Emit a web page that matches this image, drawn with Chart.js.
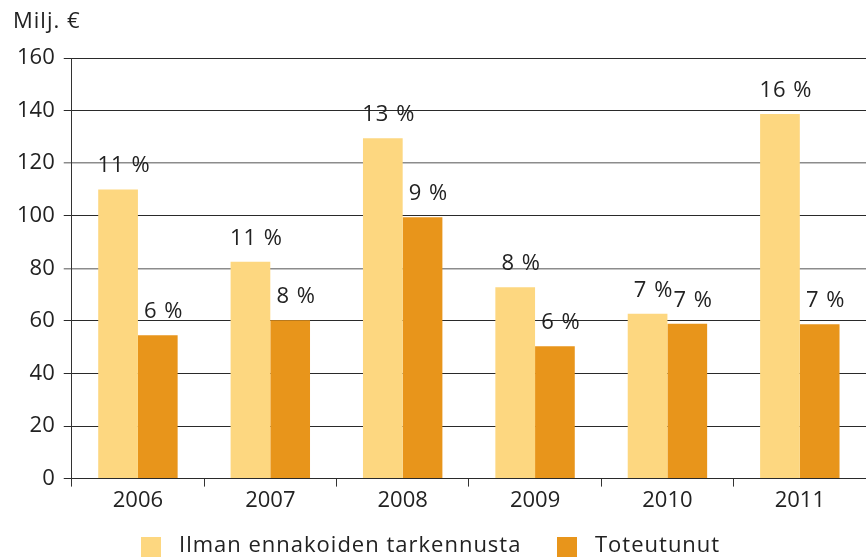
<!DOCTYPE html>
<html>
<head>
<meta charset="utf-8">
<script src="https://cdn.jsdelivr.net/npm/chart.js@4.4.1/dist/chart.umd.min.js"></script>
<style>
  html, body { margin: 0; padding: 0; background: #fff; }
  #wrap { width: 866px; height: 559px; }
</style>
</head>
<body>
<div id="wrap"><canvas id="c" width="866" height="559"></canvas></div>
<script>
// ---------- data ----------
const years = ["2006", "2007", "2008", "2009", "2010", "2011"];
const seriesNames = ["Ilman ennakoiden tarkennusta", "Toteutunut"];
const ilmanValues = [110, 82.5, 129.5, 72.8, 62.7, 138.7];
const toteutunutValues = [54.5, 60.2, 99.4, 50.3, 58.9, 58.7];
const ilmanPct = ["11 %", "11 %", "13 %", "8 %", "7 %", "16 %"];
const toteutunutPct = ["6 %", "8 %", "9 %", "6 %", "7 %", "7 %"];
const yTicks = [0, 20, 40, 60, 80, 100, 120, 140, 160];
const softGridValues = [80, 120]; // these two lines print lighter in the original

const YELLOW = "#fdd780";
const ORANGE = "#e8951b";
const INK = "#222";
const FONT = "'Open Sans', 'Noto Sans', sans-serif";
const SIZE = 22;

// wider tracking like the original typeface
const spacingPlugin = {
  id: "spacing",
  beforeInit(chart) { chart.ctx.letterSpacing = "1px"; },
};

// percentage labels above bars, unit caption and the bottom legend
const labelPlugin = {
  id: "pctLabels",
  afterDraw(chart) {
    const ctx = chart.ctx;
    ctx.save();
    ctx.letterSpacing = "1px";
    ctx.font = SIZE + "px " + FONT;
    ctx.fillStyle = INK;
    ctx.textAlign = "center";
    ctx.textBaseline = "alphabetic";
    const texts = [ilmanPct, toteutunutPct];
    chart.data.datasets.forEach((ds, di) => {
      chart.getDatasetMeta(di).data.forEach((bar, i) => {
        ctx.fillText(texts[di][i], bar.x + 6, bar.y - 17);
      });
    });

    ctx.textAlign = "left";
    ctx.fillText("Milj. €", 13, 28);

    // legend
    const items = [{ x: 141, color: YELLOW }, { x: 557, color: ORANGE }];
    ctx.textBaseline = "middle";
    items.forEach((it, i) => {
      ctx.fillStyle = it.color;
      ctx.fillRect(it.x, 537, 20, 20);
      ctx.fillStyle = INK;
      ctx.fillText(seriesNames[i], it.x + 38, 546);
    });
    ctx.restore();
  },
};

new Chart(document.getElementById("c"), {
  type: "bar",
  data: {
    labels: years,
    datasets: [
      { label: seriesNames[0], data: ilmanValues, backgroundColor: YELLOW, categoryPercentage: 0.6, barPercentage: 1 },
      { label: seriesNames[1], data: toteutunutValues, backgroundColor: ORANGE, categoryPercentage: 0.6, barPercentage: 1 },
    ],
  },
  options: {
    responsive: false,
    animation: false,
    layout: { padding: { top: 58, right: 0, left: 8, bottom: 44 } },
    plugins: {
      tooltip: { enabled: false },
      legend: { display: false },
    },
    scales: {
      x: {
        offset: true,
        grid: { display: true, drawOnChartArea: false, tickLength: 8, color: "#333", offset: true },
        border: { display: false },
        ticks: { color: INK, font: { family: FONT, size: SIZE }, padding: 1 },
      },
      y: {
        min: 0, max: 160,
        afterBuildTicks: (axis) => { axis.ticks = yTicks.map((v) => ({ value: v })); },
        grid: {
          color: (c) => softGridValues.includes(c.tick && c.tick.value) ? "#8c8c8c" : "#2a2a2a",
          lineWidth: (c) => softGridValues.includes(c.tick && c.tick.value) ? 1.5 : 1,
          tickLength: 8,
        },
        border: { display: true, color: "#333" },
        ticks: { color: INK, font: { family: FONT, size: SIZE }, padding: 9 },
      },
    },
  },
  plugins: [spacingPlugin, labelPlugin],
});
</script>
</body>
</html>
